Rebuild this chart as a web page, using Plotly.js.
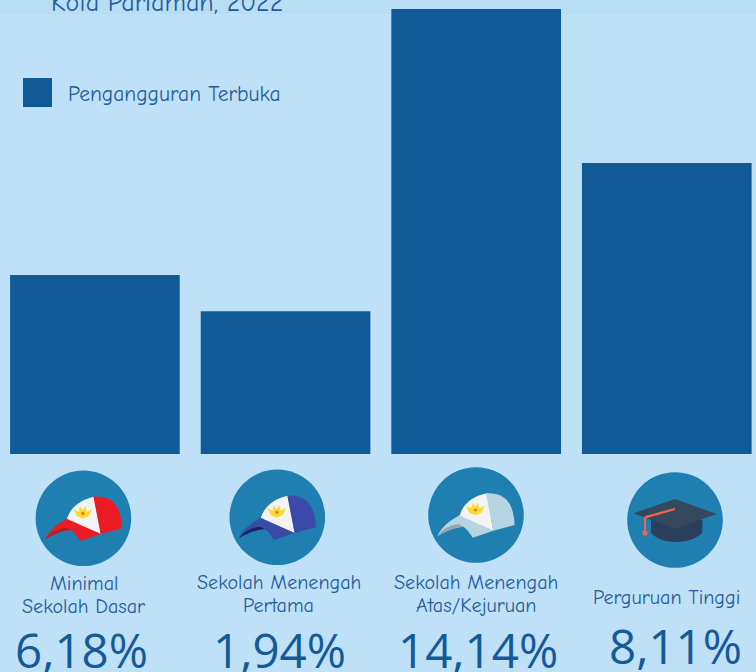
<!DOCTYPE html>
<html><head><meta charset="utf-8">
<script src="https://cdn.plot.ly/plotly-3.0.1.min.js"></script>
<style>html,body{margin:0;padding:0;background:#bfe1f7}#c{width:756px;height:672px}</style>
</head><body><div id="c"></div>
<script>
// ---- data ----
const categories = ["Minimal Sekolah Dasar","Sekolah Menengah Pertama","Sekolah Menengah Atas/Kejuruan","Perguruan Tinggi"];
const categoryLabels = ["Minimal<br>Sekolah Dasar","Sekolah Menengah<br>Pertama","Sekolah Menengah<br>Atas/Kejuruan","Perguruan Tinggi"];
const valueLabels = ["6,18%","1,94%","14,14%","8,11%"];
// heights of the bars as drawn in the picture (in units where the tallest bar = 14.14)
const barHeights = [5.69,4.54,14.14,9.25];
const seriesName = "Pengangguran Terbuka";
const titleFragment = "Kota Pariaman, 2022";

// ---- style / layout helpers ----
const W=756,H=672;
const BG="#bfe1f7",BAR="#105a98",TXT="#1f5c9c",NUM="#15599a",CIRC="#1f7fb0";
const FONT='"Comic Neue","Lato","Noto Sans",sans-serif';
const px=x=>x/W, py=y=>1-y/H;
const t=(s,x,y,size,color,family,anchor)=>({text:s,xref:"paper",yref:"paper",x:px(x),y:py(y),xanchor:anchor||"center",yanchor:"middle",showarrow:false,
  font:{size:size,color:color,family:family||FONT}});
function P(cmds,cx,cy){
  return cmds.map(c=>{
    const [op,...v]=c;
    const o=[];
    for(let i=0;i<v.length;i+=2){o.push(px(cx+v[i]/3)+","+py(cy+v[i+1]/3));}
    return op+o.join(" ");
  }).join(" ")+" Z";
}
const sh=(cmds,cx,cy,fill)=>({type:"path",xref:"paper",yref:"paper",path:P(cmds,cx,cy),fillcolor:fill,line:{width:0},layer:"above"});
const circle=(cx,cy,r,fill)=>({type:"circle",xref:"paper",yref:"paper",x0:px(cx-r),x1:px(cx+r),y0:py(cy+r),y1:py(cy-r),fillcolor:fill,line:{width:0},layer:"above"});

function cap(cx,cy,main,dark,white){
  return [
    circle(cx,cy,47.8,CIRC),
    sh([["M",-50,5],["C",-42,-28,-15,-55,32,-65],["L",52,47]],cx,cy,white),
    sh([["M",30,-65],["C",85,-68,112,-40,116,30],["L",52,47]],cx,cy,main),
    sh([["M",-115,63],["C",-105,38,-80,18,-50,1],["L",52,47],["L",-10,68],["C",-18,54,-28,42,-38,35],["C",-68,38,-95,50,-115,63]],cx,cy,main),
    sh([["M",-115,63],["C",-103,45,-78,30,-52,28],["L",-38,35],["C",-68,38,-95,50,-115,63]],cx,cy,dark),
    sh([["M",-30,-28],["L",-14,-20],["L",-10,-36],["L",-2,-24],["L",6,-36],["L",10,-20],["L",26,-28],["L",16,-6],["L",6,-3],["L",-2,1],["L",-10,-3],["L",-20,-6]],cx,cy,"#f7dc2c"),
    circle(cx-0.5,cy-5,1.6,"#e8743b")
  ];
}
const grad=(cx,cy)=>[
  circle(cx,cy,47.8,CIRC),
  sh([["M",-72,0],["L",-72,38],["C",-40,75,45,75,82,38],["L",82,0]],cx,cy,"#2b3f5c"),
  sh([["M",-125,-20],["L",0,-63],["L",125,-18],["L",0,27]],cx,cy,"#34495e"),
  sh([["M",0,-36],["L",-90,-12],["L",-86,-5],["L",0,-30]],cx,cy,"#f0654f"),
  sh([["M",-93,-10],["L",-87,-10],["L",-87,35],["L",-93,35]],cx,cy,"#f0654f"),
  circle(cx-30,cy+13,2.7,"#f0654f")
];

const shapes=[
  {type:"rect",xref:"paper",yref:"paper",x0:0,x1:1,y0:py(14),y1:1,fillcolor:"#b8def5",line:{width:0},layer:"below"},
  {type:"rect",xref:"paper",yref:"paper",x0:px(23),x1:px(52),y0:py(107),y1:py(78),fillcolor:BAR,line:{width:0},layer:"above"},
  ...cap(83.4,518.3,"#ed1c24","#a8232c","#f3f3f3"),
  ...cap(277.3,517.3,"#3a4aa8","#1b2163","#f3f3f3"),
  ...cap(476,515,"#b7d4e2","#8fa6ae","#f3f3f3"),
  ...grad(675,520)
];

const labelPos=[[83.5,594.5],[278.5,593.5],[476,593.5],[666.5,597.5]];
const numPos=[[81.5,649],[279,649],[477.5,649],[675,645]];
const LINE=23;
const labelAnn=[];
categoryLabels.forEach((s,i)=>{
  const lines=s.split("<br>");
  lines.forEach((l,j)=>labelAnn.push(t(l,labelPos[i][0],labelPos[i][1]+(j-(lines.length-1)/2)*LINE,20.1,TXT)));
});
const annotations=[
  t(titleFragment,49,3,26,TXT,FONT,"left"),
  t(seriesName,66,94,21.5,TXT,FONT,"left"),
  ...labelAnn,
  ...valueLabels.map((s,i)=>t(s,numPos[i][0],numPos[i][1],47.5,NUM,'"Open Sans",sans-serif'))
];

Plotly.newPlot("c",[{
  type:"bar",x:categories,y:barHeights,name:seriesName,
  marker:{color:BAR,line:{width:0}},showlegend:false,hoverinfo:"x+name"
}],{
  width:W,height:H,paper_bgcolor:BG,plot_bgcolor:BG,
  margin:{l:0,r:0,t:0,b:0},showlegend:false,
  bargap:0.11,
  xaxis:{type:"category",range:[-0.498,3.468],visible:false,fixedrange:true,domain:[0,1]},
  yaxis:{range:[0,14.43],visible:false,fixedrange:true,domain:[218/672,1]},
  shapes:shapes,annotations:annotations
},{displayModeBar:false,responsive:false});
</script></body></html>
